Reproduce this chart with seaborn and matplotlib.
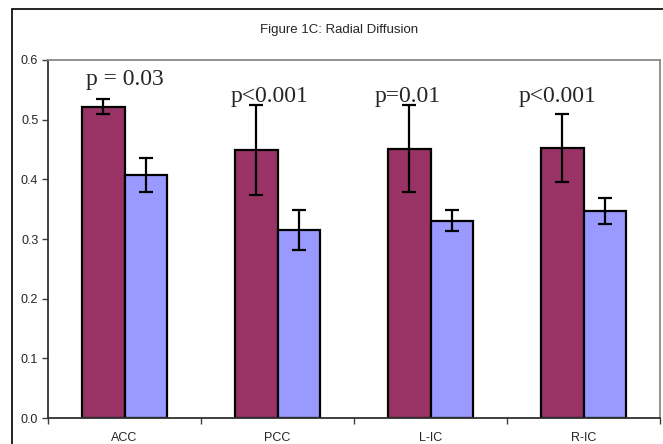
import matplotlib
matplotlib.use("Agg")
import matplotlib.pyplot as plt
from matplotlib.patches import Rectangle
from matplotlib.ticker import FixedLocator, FormatStrFormatter
import seaborn as sns
import pandas as pd

regions = ["ACC", "PCC", "L-IC", "R-IC"]
groups = ["Group A", "Group B"]
group_a_vals = [0.522, 0.449, 0.451, 0.453]
group_a_err = [0.013, 0.075, 0.073, 0.057]
group_b_vals = [0.407, 0.315, 0.331, 0.347]
group_b_err = [0.028, 0.033, 0.018, 0.022]
p_labels = ["p = 0.03", "p<0.001", "p=0.01", "p<0.001"]
p_label_x = [0.0, 0.95, 1.85, 2.83]
p_label_y = [0.567, 0.539, 0.539, 0.539]
title = "Figure 1C: Radial Diffusion"
colors = ["#993366", "#9999FF"]

df = pd.DataFrame({
    "region": regions * 2,
    "group": [groups[0]] * 4 + [groups[1]] * 4,
    "value": group_a_vals + group_b_vals,
})
errs = [group_a_err, group_b_err]

sns.set_style("white")
plt.rcParams["font.family"] = ["Liberation Sans", "DejaVu Sans"]

fig = plt.figure(figsize=(6.63, 4.44), dpi=100)
ax = fig.add_axes([48 / 663, 26 / 444, 612 / 663, 358 / 444])

sns.barplot(data=df, x="region", y="value", hue="group", order=regions,
            hue_order=groups, palette=colors, width=0.56, gap=0,
            edgecolor="black", linewidth=1.6, errorbar=None, legend=False,
            saturation=1, ax=ax)

for cont, e in zip(ax.containers, errs):
    xs = [b.get_x() + b.get_width() / 2 for b in cont]
    hs = [b.get_height() for b in cont]
    ax.errorbar(xs, hs, yerr=e, fmt="none", ecolor="black", elinewidth=1.6,
                capsize=5, capthick=1.6, zorder=5)

for lab, xx, yy in zip(p_labels, p_label_x, p_label_y):
    ax.text(xx, yy, lab, ha="center", va="center",
            fontsize=17, family=["Liberation Serif", "DejaVu Serif"])

ax.set_xlim(-0.5, 3.5)
ax.set_ylim(0, 0.6)
ax.set_yticks([0.0, 0.1, 0.2, 0.3, 0.4, 0.5, 0.6])
ax.yaxis.set_major_formatter(FormatStrFormatter("%.1f"))
ax.set_xlabel("")
ax.set_ylabel("")
ax.xaxis.set_minor_locator(FixedLocator([-0.5, 0.5, 1.5, 2.5, 3.5]))
ax.tick_params(axis="x", which="major", length=0, labelsize=9, pad=10)
ax.tick_params(axis="x", which="minor", length=4, width=1, direction="out",
               color="#404040", bottom=True)
ax.tick_params(axis="y", which="major", length=4, width=1, direction="out",
               color="#404040", labelsize=9, pad=3, left=True)

for s in ["left", "bottom"]:
    ax.spines[s].set_color("#303030")
    ax.spines[s].set_linewidth(1.3)
for s in ["top", "right"]:
    ax.spines[s].set_color("#888888")
    ax.spines[s].set_linewidth(1.3)

fig.text(339 / 663, 1 - 30 / 444, title, ha="center", va="center", fontsize=9.5)

fig.patches.append(Rectangle((12 / 663, -0.1), 1.2, 1 - 9 / 444 + 0.1,
                             transform=fig.transFigure, fill=False,
                             edgecolor="black", linewidth=1.2, clip_on=False))

fig.savefig("out.png", dpi=100)
